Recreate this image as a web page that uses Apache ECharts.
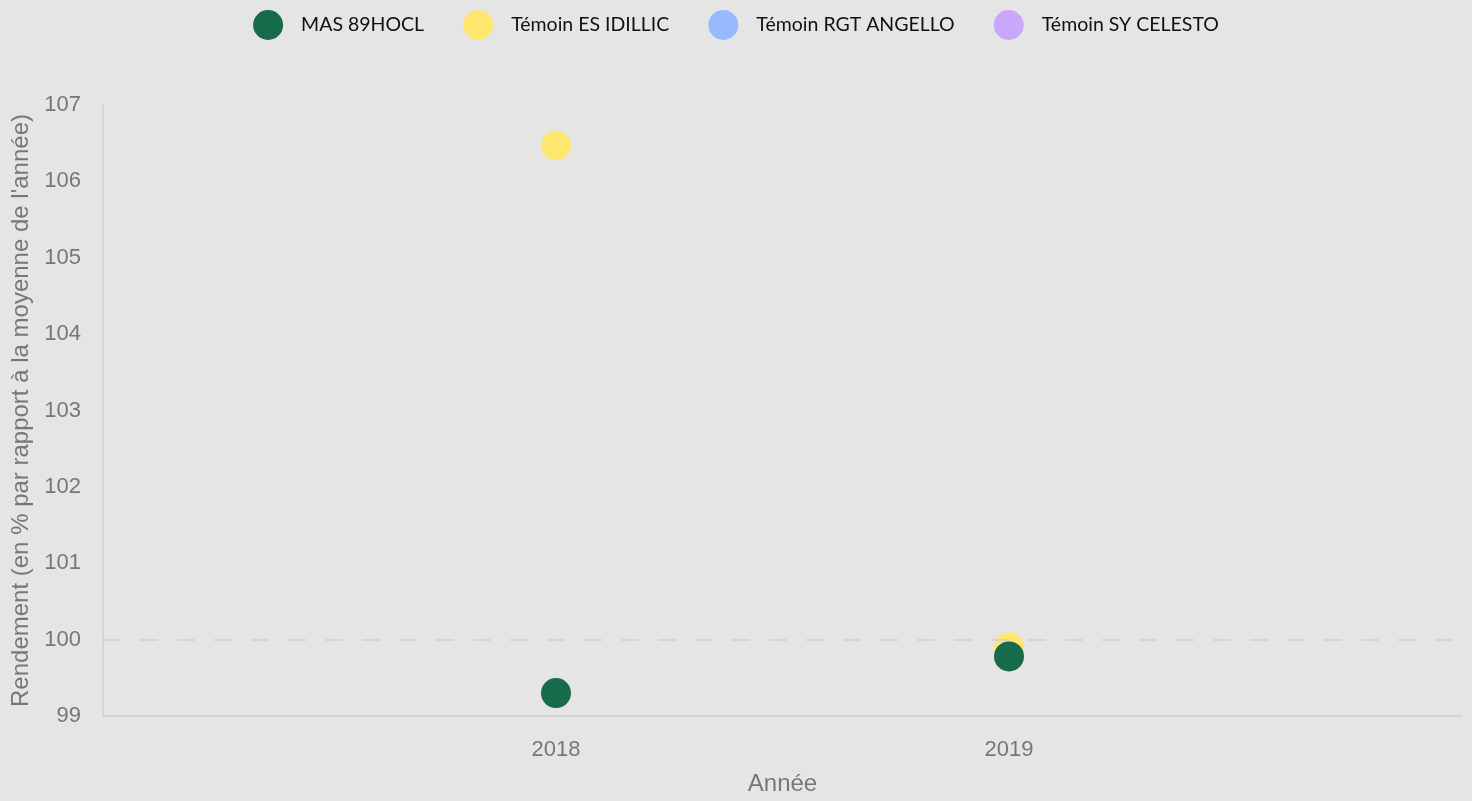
<!DOCTYPE html>
<html>
<head>
<meta charset="utf-8">
<script src="https://cdn.jsdelivr.net/npm/echarts@6/dist/echarts.min.js"></script>
<style>
  html, body { margin: 0; padding: 0; background: #e5e5e5; }
  #chart { width: 1472px; height: 801px; }
</style>
</head>
<body>
<div id="chart"></div>
<script>
// séries : [année, rendement %]
const seriesNames = ['MAS 89HOCL', 'Témoin ES IDILLIC', 'Témoin RGT ANGELLO', 'Témoin SY CELESTO']
const seriesColors = ['#176b4a', '#ffe66e', '#99b9fd', '#c9a8fb']
const masData = [[2018, 99.3], [2019, 99.78]]
const idillicData = [[2018, 106.47], [2019, 99.9]]
const angelloData = []
const celestoData = []
const refLine = 100

const dataBySeries = [masData, idillicData, angelloData, celestoData]
// ordre de dessin : le témoin jaune sous le vert
const drawOrder = [1, 2, 3, 0]

const axisGrey = '#777'
const lineGrey = '#cfcfcf'
const axisFont = 'Liberation Sans'

const series = drawOrder.map(i => ({
  name: seriesNames[i],
  type: 'scatter',
  symbolSize: 30,
  itemStyle: { color: seriesColors[i], opacity: 1 },
  data: dataBySeries[i],
  z: i === 0 ? 3 : 2
}))

series[0].markLine = {
  silent: true,
  symbol: 'none',
  label: { show: false },
  lineStyle: { color: lineGrey, type: [18, 19], width: 1.5 },
  data: [{ yAxis: refLine }]
}

const option = {
  backgroundColor: '#e5e5e5',
  color: seriesColors,
  legend: {
    data: seriesNames.map(n => ({ name: n, icon: 'circle' })),
    top: 5,
    left: 'center',
    itemWidth: 30,
    itemHeight: 30,
    itemGap: 39,
    textStyle: { fontFamily: 'Lato', fontSize: 19.5, color: '#111', padding: [0, 0, 0, 13] }
  },
  grid: { left: 103, right: 10, top: 105, bottom: 80 },
  xAxis: {
    type: 'value',
    min: 2017,
    max: 2020,
    interval: 1,
    name: 'Année',
    nameLocation: 'middle',
    nameGap: 56,
    nameTextStyle: { color: axisGrey, fontSize: 24, fontFamily: axisFont },
    axisLine: { show: true, lineStyle: { color: lineGrey, width: 1.5 } },
    axisTick: { show: false },
    splitLine: { show: false },
    axisLabel: {
      color: axisGrey, fontSize: 22, fontFamily: axisFont, margin: 23,
      showMinLabel: false, showMaxLabel: false,
      formatter: v => String(v)
    }
  },
  yAxis: {
    type: 'value',
    min: 99,
    max: 107,
    interval: 1,
    name: "Rendement (en % par rapport à la moyenne de l'année)",
    nameLocation: 'middle',
    nameGap: 68,
    nameTextStyle: { color: axisGrey, fontSize: 24, fontFamily: axisFont },
    axisLine: { show: true, lineStyle: { color: lineGrey, width: 1.5 } },
    axisTick: { show: false },
    splitLine: { show: false },
    axisLabel: { color: axisGrey, fontSize: 22, fontFamily: axisFont, margin: 22 }
  },
  series
}

const chart = echarts.init(document.getElementById('chart'))
chart.setOption(option)
</script>
</body>
</html>
